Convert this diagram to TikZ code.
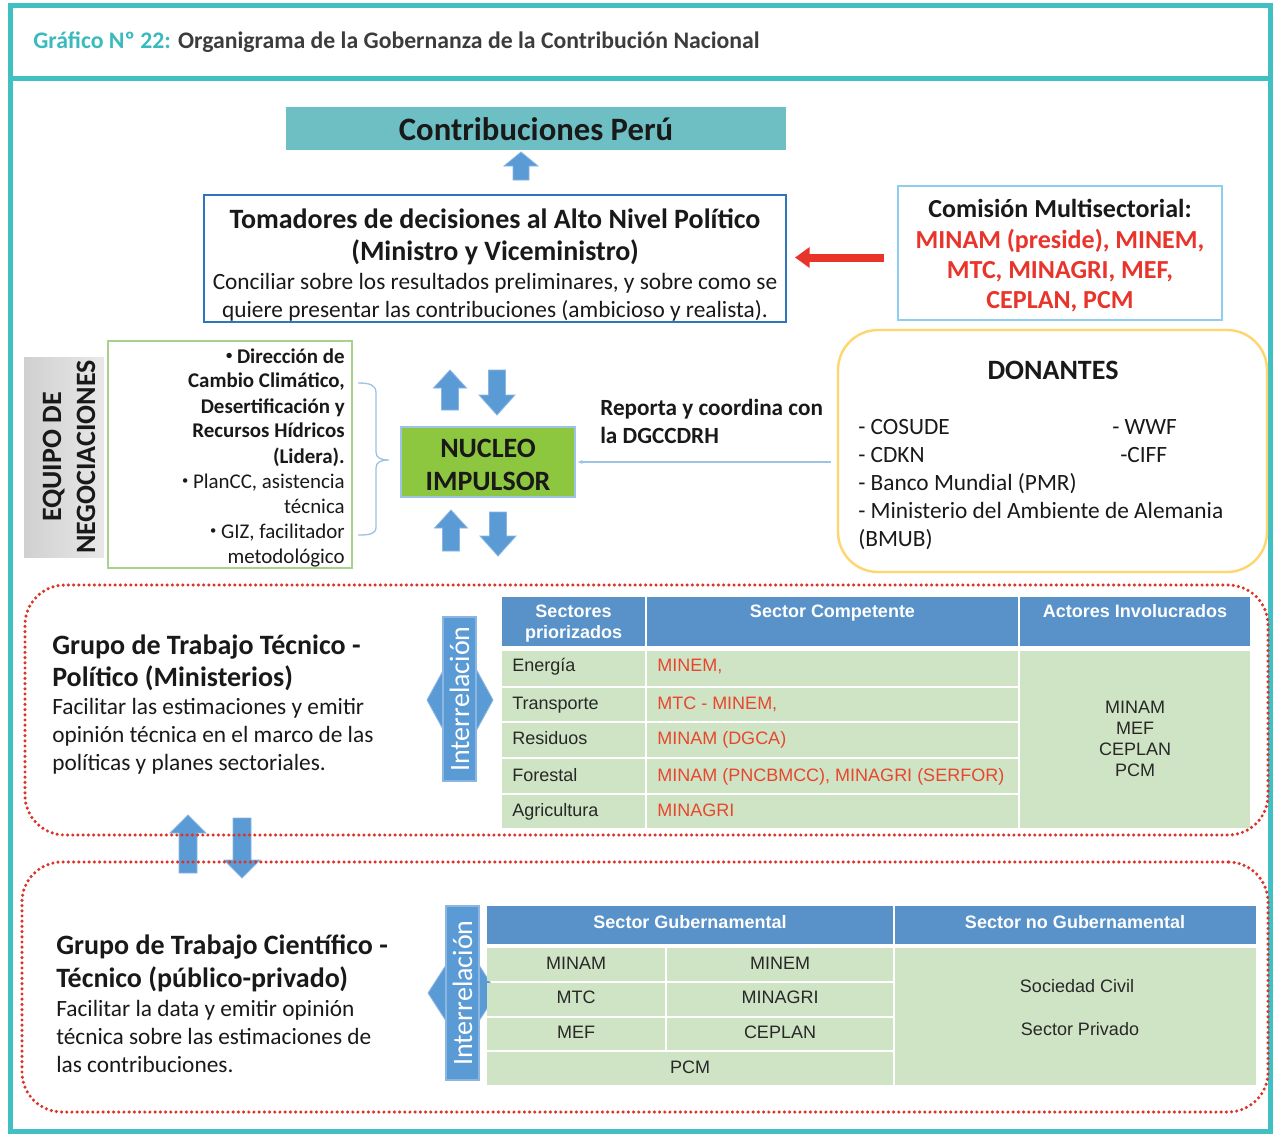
\documentclass[tikz,border=0pt]{standalone}
\usepackage{fontspec}
\setmainfont{Carlito}
\newfontfamily\arialf{Liberation Sans}
\usetikzlibrary{calc,arrows.meta}
\definecolor{frameteal}{RGB}{64,192,194}
\definecolor{titleteal}{RGB}{57,187,189}
\definecolor{titledark}{RGB}{60,60,60}
\definecolor{textdark}{RGB}{25,25,25}
\definecolor{contribfill}{RGB}{110,191,196}
\definecolor{arrowblue}{RGB}{91,155,213}
\definecolor{arrowedge}{RGB}{140,182,226}
\definecolor{tomblue}{RGB}{46,117,190}
\definecolor{redc}{RGB}{232,52,42}
\definecolor{comblue}{RGB}{142,205,240}
\definecolor{greenborder}{RGB}{169,209,142}
\definecolor{nucfill}{RGB}{141,198,63}
\definecolor{nucborder}{RGB}{157,195,230}
\definecolor{donborder}{RGB}{255,214,110}
\definecolor{dotred}{RGB}{222,50,40}
\definecolor{hdrblue}{RGB}{88,146,201}
\definecolor{tabgreen}{RGB}{206,228,196}
\definecolor{tabred}{RGB}{232,70,45}
\definecolor{tabtext}{RGB}{40,40,40}
\definecolor{eqgrayA}{RGB}{208,208,208}
\definecolor{eqgrayB}{RGB}{232,232,232}
\definecolor{linkblue}{RGB}{157,195,230}

\newcommand{\blockarr}[6]{%
  \pgfmathsetmacro\bkY{#3-sign(#3-#2)*#6}%
  \path[blockarrow] (#1-#4/2,#2) -- (#1-#4/2,\bkY) -- (#1-#5/2,\bkY) -- (#1,#3) -- (#1+#5/2,\bkY) -- (#1+#4/2,\bkY) -- (#1+#4/2,#2) -- cycle;}
\newcommand{\smbul}{\raisebox{0.18em}{\scalebox{0.6}{•}}}

\tikzset{
  sz/.style 2 args={minimum width=#1*0.75pt, minimum height=#2*0.75pt},
  boxnode/.style={anchor=north west, inner sep=0pt, outer sep=0pt},
  blockarrow/.style={fill=arrowblue, draw=arrowedge, line width=0.6pt},
  dotbox/.style={boxnode, draw=dotred, line width=2.6pt, dash pattern=on 0pt off 3.9pt, line cap=round, rounded corners=30pt},
  hdr/.style={boxnode, fill=hdrblue},
  cellg/.style={boxnode, fill=tabgreen},
  tabtxt/.style={font=\arialf\fontsize{13.5}{15.75}\selectfont, text=tabtext, inner sep=0pt},
  hdrtxt/.style={font=\arialf\bfseries\fontsize{13.5}{15.75}\selectfont, text=white, inner sep=0pt},
  txtB/.style={anchor=base, inner sep=0pt, text=textdark},
  txtL/.style={anchor=base west, inner sep=0pt, text=textdark},
  txtR/.style={anchor=base east, inner sep=0pt, text=textdark},
  interbar/.style={boxnode, fill=arrowblue, draw=arrowedge, line width=0.8pt},
  intertxt/.style={rotate=90, text=white, inner sep=0pt, font=\fontsize{21}{24}\selectfont},
  fbig/.style={font=\fontsize{21}{24}\selectfont\bfseries},
  fnorm/.style={font=\fontsize{17.5}{20}\selectfont},
  fg/.style={font=\fontsize{15.7}{18}\selectfont\bfseries},
  fgn/.style={font=\fontsize{15.7}{18}\selectfont},
  fd/.style={font=\fontsize{17.5}{20}\selectfont},
  fcom/.style={font=\fontsize{19.5}{22}\selectfont\bfseries},
  fhead/.style={font=\fontsize{21}{24}\selectfont\bfseries},
  fdesc/.style={font=\fontsize{17.5}{20}\selectfont},
}

\begin{document}
\begin{tikzpicture}[x=0.75pt,y=-0.75pt]
\useasboundingbox (0,0) rectangle (1276,1135);
\fill[white] (0,0) rectangle (1276,1135);

% frame
\draw[frameteal, line width=3.75pt] (10.5,5.5) rectangle (1270.5,1131.5);
\draw[frameteal, line width=3.75pt] (10.5,78.5) -- (1270.5,78.5);

% title
\node[txtL, font=\fontsize{17.8}{20}\selectfont\bfseries] (title) at (33,48.5)
  {\textcolor{titleteal}{Gráfico Nº 22:} \textcolor{titledark}{Organigrama de la Gobernanza de la Contribución Nacional}};

% Contribuciones Peru
\node[boxnode, fill=contribfill, sz={500}{43}] (contrib) at (286,107) {};
\node[txtB, font=\fontsize{24.5}{28}\selectfont\bfseries] (contribt) at (contrib.center |- 0,140) {Contribuciones Perú};
\blockarr{521}{180}{152}{16}{34}{14}

% Tomadores
\node[boxnode, draw=tomblue, line width=1.6pt, sz={582}{127}] (tom) at (204,195) {};
\node[txtB, fbig] (tom1) at (495,228) {Tomadores de decisiones al Alto Nivel Político};
\node[txtB, fbig] (tom2) at (495,260) {(Ministro y Viceministro)};
\node[txtB, fnorm] (tom3) at (495,289.5) {Conciliar sobre los resultados preliminares, y sobre como se};
\node[txtB, fnorm] (tom4) at (495,317.5) {quiere presentar las contribuciones (ambicioso y realista).};

% Comision
\node[boxnode, draw=comblue, line width=1.5pt, sz={324}{134}] (com) at (898,186) {};
\node[txtB, fcom] (com1) at (1060,217.5) {Comisión Multisectorial:};
\node[txtB, fcom, text=redc] (com2) at (1060,248.5) {MINAM (preside), MINEM,};
\node[txtB, fcom, text=redc] (com3) at (1060,278.5) {MTC, MINAGRI, MEF,};
\node[txtB, fcom, text=redc] (com4) at (1060,308.5) {CEPLAN, PCM};
\draw[redc, line width=6pt, -{Triangle[length=11pt,width=15pt]}] ($(com.west |- tom.east)+(-14,-1)$) -- ($(tom.east)+(9,-1)$);

% Equipo de negociaciones
\node[boxnode, left color=eqgrayA, right color=eqgrayB, sz={80}{200}] (eq) at (24,357) {};
\node[anchor=base, rotate=90, inner sep=0pt, text=textdark, fhead] (eq1) at (61,457) {EQUIPO DE};
\node[anchor=base, rotate=90, inner sep=0pt, text=textdark, fhead] (eq2) at (95,457) {NEGOCIACIONES};

% green box
\node[boxnode, draw=greenborder, line width=1.5pt, sz={244}{227}] (gbox) at (108,341) {};
\node[txtR, fg] (gb1) at (345,363.5) {\smbul\ Dirección de};
\node[txtR, fg] (gb2) at (345,387.5) {Cambio Climático,};
\node[txtR, fg] (gb3) at (345,413.5) {Desertificación y};
\node[txtR, fg] (gb4) at (345,437.5) {Recursos Hídricos};
\node[txtR, fg] (gb5) at (345,463.5) {(Lidera).};
\node[txtR, fgn] (gb6) at (345,488.5) {\smbul\ PlanCC, asistencia};
\node[txtR, fgn] (gb7) at (345,513.5) {técnica};
\node[txtR, fgn] (gb8) at (345,538.5) {\smbul\ GIZ, facilitador};
\node[txtR, fgn] (gb9) at (345,563.5) {metodológico};

% Nucleo
\node[boxnode, fill=nucfill, draw=nucborder, line width=1.2pt, sz={174}{70}] (nuc) at (401,427) {};
\node[txtB, font=\fontsize{21}{24}\selectfont\bfseries] (nuc1) at (488,457) {NUCLEO};
\node[txtB, font=\fontsize{21}{24}\selectfont\bfseries] (nuc2) at (488,490) {IMPULSOR};

% brace
\draw[linkblue, line width=1pt] (358,383) .. controls (370,383) and (376,385) .. (376,393) -- (376,452)
  .. controls (376,458) and (381,460) .. (389,460) .. controls (381,460) and (376,462) .. (376,468)
  -- (376,527) .. controls (376,534) and (370,535) .. (358,535);

% block arrows around nucleo
\blockarr{450}{410}{370}{17}{33}{18}
\blockarr{497}{370}{415}{17}{36}{20}
\blockarr{451}{551}{510}{17}{33}{18}
\blockarr{498}{512}{556}{17}{36}{20}

% Donantes
\node[boxnode, draw=donborder, line width=1.8pt, rounded corners=30pt, sz={429}{242}] (don) at (838,330) {};
\node[txtB, font=\fontsize{21}{24}\selectfont\bfseries] (dont) at (1053,379) {DONANTES};
\node[txtL, fd] (d1) at (858,434.5) {- COSUDE};
\node[txtL, fd] (d2) at (858,462.5) {- CDKN};
\node[txtL, fd] (d3) at (858,490.5) {- Banco Mundial (PMR)};
\node[txtL, fd] (d4) at (858,518.5) {- Ministerio del Ambiente de Alemania};
\node[txtL, fd] (d5) at (858,546.5) {(BMUB)};
\node[txtL, fd] (d6) at (1112,434.5) {- WWF};
\node[txtL, fd] (d7) at (1120,462.5) {-CIFF};

% link donantes -> nucleo
\draw[linkblue, line width=0.9pt, -{Latex[length=4pt,width=3pt]}] ($(don.west |- nuc.east)+(-7,0)$) -- ($(nuc.east)+(2,0)$);
\node[txtL, font=\fontsize{17.4}{20}\selectfont\bfseries] (rep1) at (600,415.5) {Reporta y coordina con};
\node[txtL, font=\fontsize{17.4}{20}\selectfont\bfseries] (rep2) at (600,443.5) {la DGCCDRH};

% arrows between groups
\blockarr{188}{873}{815}{18}{36}{18}
\blockarr{242}{818}{878}{18}{36}{18}

% Group 1
\node[dotbox, sz={1243}{250}] (grp1) at (25,585) {};
\node[txtL, fhead] (g1a) at (52,654) {Grupo de Trabajo Técnico -};
\node[txtL, fhead] (g1b) at (52,686) {Político (Ministerios)};
\node[txtL, fdesc] (g1c) at (52,714.5) {Facilitar las estimaciones y emitir};
\node[txtL, fdesc] (g1d) at (52,742.5) {opinión técnica en el marco de las};
\node[txtL, fdesc] (g1e) at (52,770.5) {políticas y planes sectoriales.};

\path[blockarrow] (427,700) -- (445,667) -- (475,667) -- (493,700) -- (475,733) -- (445,733) -- cycle;
\node[interbar, sz={33}{164}] (ir1) at (443,617) {};
\node[intertxt] (ir1t) at (ir1.center) {Interrelación};

% Table 1
\node[hdr, sz={143}{49}] (t1h1) at (502,597) {};
\node[hdr, sz={371}{49}] (t1h2) at (647,597) {};
\node[hdr, sz={230}{49}] (t1h3) at (1020,597) {};
\node[hdrtxt, anchor=base] (t1h1a) at (573.5,617.5) {Sectores};
\node[hdrtxt, anchor=base] (t1h1b) at (573.5,638.5) {priorizados};
\node[hdrtxt, anchor=base] (t1h2t) at (832.5,617.5) {Sector Competente};
\node[hdrtxt, anchor=base] (t1h3t) at (1135,617.5) {Actores Involucrados};

\node[cellg, sz={143}{35}] (r1a) at (502,651) {};
\node[cellg, sz={371}{35}] (r1b) at (647,651) {};
\node[cellg, sz={143}{33}] (r2a) at (502,688) {};
\node[cellg, sz={371}{33}] (r2b) at (647,688) {};
\node[cellg, sz={143}{34}] (r3a) at (502,723) {};
\node[cellg, sz={371}{34}] (r3b) at (647,723) {};
\node[cellg, sz={143}{34}] (r4a) at (502,759) {};
\node[cellg, sz={371}{34}] (r4b) at (647,759) {};
\node[cellg, sz={143}{33}] (r5a) at (502,795) {};
\node[cellg, sz={371}{33}] (r5b) at (647,795) {};
\node[cellg, sz={230}{177}] (r0c) at (1020,651) {};

\node[tabtxt, anchor=base west] (r1at) at (512,671.5) {Energía};
\node[tabtxt, anchor=base west] (r2at) at (512,709.5) {Transporte};
\node[tabtxt, anchor=base west] (r3at) at (512,744.5) {Residuos};
\node[tabtxt, anchor=base west] (r4at) at (512,781.5) {Forestal};
\node[tabtxt, anchor=base west] (r5at) at (512,816.5) {Agricultura};
\node[tabtxt, text=tabred, anchor=base west] (r1bt) at (657,671.5) {MINEM,};
\node[tabtxt, text=tabred, anchor=base west] (r2bt) at (657,709.5) {MTC - MINEM,};
\node[tabtxt, text=tabred, anchor=base west] (r3bt) at (657,744.5) {MINAM (DGCA)};
\node[tabtxt, text=tabred, anchor=base west] (r4bt) at (657,781.5) {MINAM (PNCBMCC), MINAGRI (SERFOR)};
\node[tabtxt, text=tabred, anchor=base west] (r5bt) at (657,816.5) {MINAGRI};
\node[tabtxt, anchor=base] (a1) at (1135,713.5) {MINAM};
\node[tabtxt, anchor=base] (a2) at (1135,734.5) {MEF};
\node[tabtxt, anchor=base] (a3) at (1135,755.5) {CEPLAN};
\node[tabtxt, anchor=base] (a4) at (1135,776.5) {PCM};

% Group 2
\node[dotbox, sz={1246}{250}] (grp2) at (22,862) {};
\node[txtL, fhead] (g2a) at (56,954) {Grupo de Trabajo Científico -};
\node[txtL, fhead] (g2b) at (56,987) {Técnico (público-privado)};
\node[txtL, fdesc] (g2c) at (56,1016.5) {Facilitar la data y emitir opinión};
\node[txtL, fdesc] (g2d) at (56,1044.5) {técnica sobre las estimaciones de};
\node[txtL, fdesc] (g2e) at (56,1072.5) {las contribuciones.};

\path[blockarrow] (428,993) -- (446,965) -- (479,965) -- (497,993) -- (479,1021) -- (446,1021) -- cycle;
\node[interbar, sz={33}{174}] (ir2) at (446,906) {};
\node[intertxt] (ir2t) at (ir2.center) {Interrelación};

% Table 2
\node[hdr, sz={406}{38}] (t2h1) at (487,906) {};
\node[hdr, sz={361}{38}] (t2h2) at (895,906) {};
\node[hdrtxt, anchor=base] (t2h1t) at (690,928.5) {Sector Gubernamental};
\node[hdrtxt, anchor=base] (t2h2t) at (1075,928.5) {Sector no Gubernamental};

\node[cellg, sz={178}{33}] (s1a) at (487,948) {};
\node[cellg, sz={226}{33}] (s1b) at (667,948) {};
\node[cellg, sz={178}{33}] (s2a) at (487,983) {};
\node[cellg, sz={226}{33}] (s2b) at (667,983) {};
\node[cellg, sz={178}{32}] (s3a) at (487,1018) {};
\node[cellg, sz={226}{32}] (s3b) at (667,1018) {};
\node[cellg, sz={406}{33}] (s4) at (487,1052) {};
\node[cellg, sz={361}{137}] (s0c) at (895,948) {};

\node[tabtxt, anchor=base] (s1at) at (576,969.5) {MINAM};
\node[tabtxt, anchor=base] (s1bt) at (780,969.5) {MINEM};
\node[tabtxt, anchor=base] (s2at) at (576,1003.5) {MTC};
\node[tabtxt, anchor=base] (s2bt) at (780,1003.5) {MINAGRI};
\node[tabtxt, anchor=base] (s3at) at (576,1038.5) {MEF};
\node[tabtxt, anchor=base] (s3bt) at (780,1038.5) {CEPLAN};
\node[tabtxt, anchor=base] (s4t) at (690,1073.5) {PCM};
\node[tabtxt, anchor=base] (sc1) at (1077,992.5) {Sociedad Civil};
\node[tabtxt, anchor=base] (sc2) at (1080,1035.5) {Sector Privado};
\end{tikzpicture}
\end{document}
